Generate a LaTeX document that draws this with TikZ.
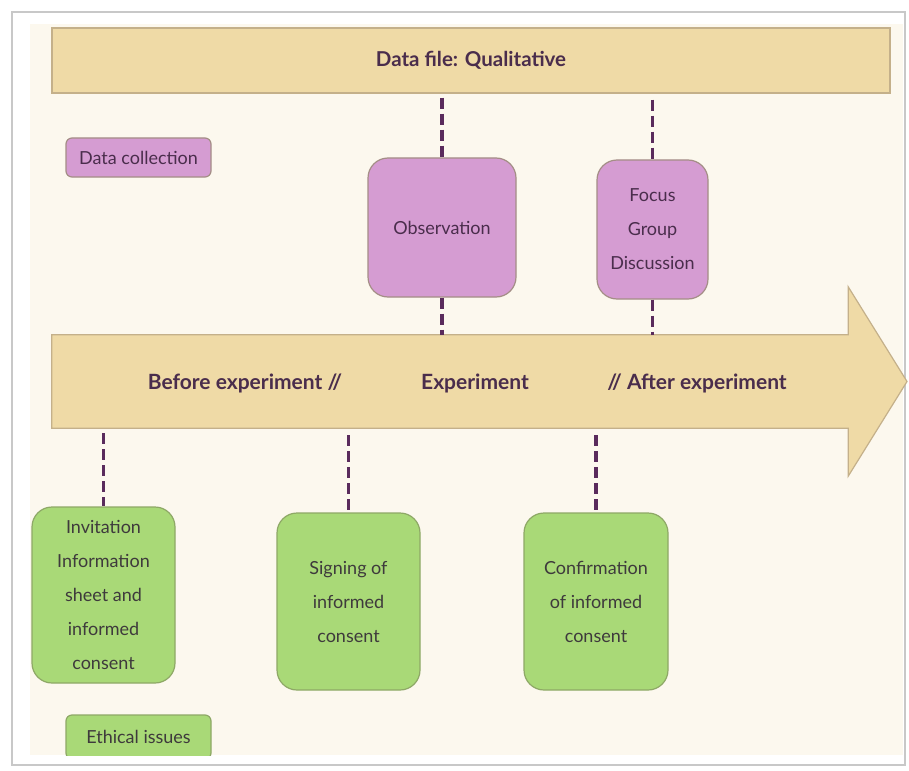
\documentclass[tikz,border=0pt]{standalone}
\usepackage{fontspec}
\setmainfont{Lato}
\usepackage{xcolor}
\definecolor{pageCream}{HTML}{FCF8EE}
\definecolor{bandTan}{HTML}{EFDAA6}
\definecolor{bandEdge}{HTML}{C4B08A}
\definecolor{lilac}{HTML}{D59CD2}
\definecolor{lilacEdge}{HTML}{A48E86}
\definecolor{leaf}{HTML}{A9D977}
\definecolor{leafEdge}{HTML}{8EA866}
\definecolor{plum}{HTML}{5A2B5C}
\definecolor{inkPlum}{HTML}{4A2D4C}
\definecolor{inkGrey}{HTML}{3E3A3C}
\definecolor{frameGrey}{HTML}{C8C8C8}
\usepackage{tikz}
\usetikzlibrary{positioning,calc}
\tikzset{
  every picture/.append style={font=\fontsize{18}{34}\selectfont},
  banner/.style={rectangle,draw=bandEdge,fill=bandTan,line width=1.2pt,minimum width=838pt,minimum height=65pt,inner sep=0pt,text=inkPlum,font=\bfseries\fontsize{20.5}{24}\selectfont},
  lilacbox/.style={rectangle,rounded corners=20pt,draw=lilacEdge,fill=lilac,line width=1.2pt,align=center,text=inkPlum,inner sep=0pt},
  leafbox/.style={rectangle,rounded corners=20pt,draw=leafEdge,fill=leaf,line width=1.2pt,align=center,text=inkGrey,inner sep=0pt,minimum width=143pt,minimum height=177pt},
  tag/.style={rectangle,rounded corners=6pt,line width=1.2pt,minimum width=145pt,minimum height=39pt,inner sep=0pt,font=\fontsize{18}{20}\selectfont},
  phase/.style={text=inkPlum,font=\bfseries\fontsize{21}{24}\selectfont},
  tether/.style={draw=plum,line width=3.5pt,dash pattern=on 11pt off 5pt},
}

\begin{document}
\begin{tikzpicture}[x=1pt,y=-1pt]
  \useasboundingbox (0,0) rectangle (909,770);
  \fill[white] (0,0) rectangle (909,770);
  \draw[frameGrey, line width=1.5pt, fill=white] (12,12) rectangle (905,765);
  \fill[pageCream] (30,24) rectangle (903,755);

  % top banner
  \node[banner] (banner) at (471,60.5) {Data file: Qualitative};

  % timeline arrow
  \node[minimum width=796pt, minimum height=93pt, inner sep=0pt] (band) at (450,381.5) {};
  \draw[bandEdge, fill=bandTan, line width=1.2pt]
    (band.north west) -- (band.north east) -- ++(0,-48) -- (907,381.5)
    -- ($(band.south east)+(0,48)$) -- (band.south east) -- (band.south west) -- cycle;
  \node[phase] (before) at (245,383) {Before experiment //};
  \node[phase] (during) at (475,383) {Experiment};
  \node[phase] (after)  at (697,383) {// After experiment};

  % data collection
  \node[tag, draw=lilacEdge, fill=lilac, text=inkPlum] (collect) at (138.5,157.5) {Data collection};
  \node[lilacbox, minimum width=148pt, minimum height=139pt] (obs) at (442,227.5) {Observation};
  \node[lilacbox, minimum width=111pt, minimum height=139pt] (fgd) at (652.5,229.5) {Focus\\Group\\Discussion};

  \draw[tether, shorten <=4pt] (obs.north |- banner.south) -- (obs.north);
  \draw[tether, shorten <=6pt] (fgd.north |- banner.south) -- (fgd.north);
  \draw[tether] (obs.south) -- (obs.south |- band.north);
  \draw[tether] (fgd.south) -- (fgd.south |- band.north);

  % ethical issues
  \node[leafbox, minimum height=176pt] (invite) at (103.5,595) {Invitation\\Information\\sheet and\\informed\\consent};
  \node[leafbox] (sign) at (348.5,601.5) {Signing of\\informed\\consent};
  \node[leafbox, minimum width=144pt] (confirm) at (596,601.5) {Confirmation\\of informed\\consent};

  \draw[tether, shorten <=5pt] (invite.north |- band.south) -- (invite.north);
  \draw[tether, shorten <=7pt] (sign.north |- band.south) -- (sign.north);
  \draw[tether, shorten <=7pt] (confirm.north |- band.south) -- (confirm.north);

  \begin{scope}
    \clip (30,24) rectangle (903,755);
    \node[tag, draw=leafEdge, fill=leaf, text=inkGrey, minimum height=44pt] (ethics) at (138.5,737) {Ethical issues};
  \end{scope}
\end{tikzpicture}
\end{document}
